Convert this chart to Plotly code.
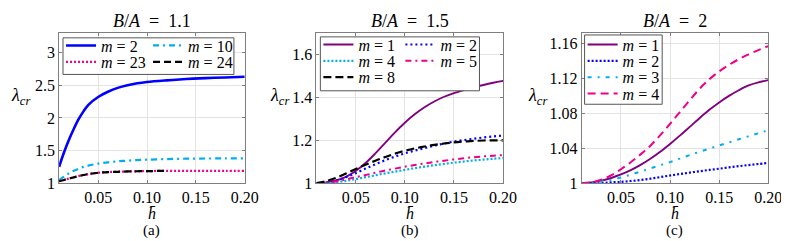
import plotly.graph_objects as go

W, H = 789, 241
FONT = "Liberation Serif"

# ---------------- data ----------------
# panel (a) B/A = 1.1
h_a = [0.01, 0.015, 0.02, 0.025, 0.03, 0.035, 0.04, 0.05, 0.06, 0.07, 0.08, 0.09,
       0.10, 0.12, 0.14, 0.16, 0.18, 0.20]
a_m2 = [1.25, 1.47, 1.66, 1.83, 1.98, 2.10, 2.20, 2.32, 2.40, 2.46, 2.50, 2.53,
        2.55, 2.575, 2.595, 2.61, 2.62, 2.63]
a_m10 = [1.05, 1.10, 1.15, 1.19, 1.22, 1.25, 1.27, 1.30, 1.32, 1.335, 1.345, 1.355,
         1.36, 1.37, 1.375, 1.378, 1.38, 1.38]
a_m23 = [1.03, 1.05, 1.07, 1.09, 1.11, 1.125, 1.14, 1.16, 1.17, 1.175, 1.18, 1.183,
         1.185, 1.19, 1.19, 1.19, 1.19, 1.19]
h_a24 = [0.01, 0.015, 0.02, 0.025, 0.03, 0.035, 0.04, 0.05, 0.06, 0.07, 0.08, 0.09,
         0.10, 0.12]
a_m24 = [1.03, 1.05, 1.07, 1.09, 1.11, 1.125, 1.14, 1.16, 1.17, 1.175, 1.18, 1.183,
         1.185, 1.19]

# panel (b) B/A = 1.5
h_b = [0.01, 0.02, 0.03, 0.04, 0.05, 0.06, 0.07, 0.08, 0.09, 0.10, 0.11, 0.12,
       0.13, 0.14, 0.15, 0.16, 0.17, 0.18, 0.19, 0.20]
b_m1 = [1.0, 1.004, 1.013, 1.030, 1.057, 1.094, 1.139, 1.188, 1.237, 1.282, 1.321, 1.354,
        1.381, 1.403, 1.420, 1.434, 1.447, 1.458, 1.468, 1.477]
b_m2 = [1.0, 1.003, 1.012, 1.028, 1.047, 1.068, 1.088, 1.107, 1.124, 1.139, 1.152, 1.164,
        1.175, 1.185, 1.194, 1.201, 1.207, 1.213, 1.218, 1.222]
b_m4 = [1.0, 1.0, 1.004, 1.011, 1.019, 1.028, 1.037, 1.046, 1.054, 1.062, 1.07, 1.077,
        1.084, 1.09, 1.096, 1.101, 1.106, 1.11, 1.114, 1.117]
b_m5 = [1.0, 1.002, 1.008, 1.018, 1.028, 1.038, 1.049, 1.059, 1.068, 1.077, 1.085, 1.092,
        1.099, 1.105, 1.111, 1.116, 1.121, 1.125, 1.128, 1.131]
b_m8 = [1.0, 1.01, 1.025, 1.045, 1.066, 1.086, 1.105, 1.122, 1.138, 1.151, 1.162, 1.171,
        1.179, 1.185, 1.19, 1.194, 1.197, 1.199, 1.2, 1.2]

# panel (c) B/A = 2
h_c = h_b
c_m1 = [1.0, 1.001, 1.003, 1.006, 1.010, 1.015, 1.021, 1.028, 1.036, 1.045, 1.0545, 1.0645,
        1.0745, 1.084, 1.0925, 1.1, 1.1065, 1.112, 1.1155, 1.118]
c_m2 = [1.0, 1.0, 1.0, 1.001, 1.0015, 1.0025, 1.0037, 1.0052, 1.007, 1.0088, 1.0105, 1.0121,
        1.0137, 1.0152, 1.0166, 1.0181, 1.0195, 1.0208, 1.022, 1.0233]
c_m3 = [1.0, 1.0, 1.002, 1.004, 1.0066, 1.0098, 1.0133, 1.017, 1.0206, 1.0242, 1.0282, 1.0322,
        1.036, 1.0397, 1.0432, 1.0468, 1.0503, 1.0538, 1.0572, 1.0606]
c_m4 = [1.0, 1.001, 1.004, 1.009, 1.016, 1.024, 1.033, 1.043, 1.055, 1.068, 1.0815, 1.095,
        1.108, 1.119, 1.128, 1.1355, 1.142, 1.1475, 1.1525, 1.157]

x_ticks = [0.05, 0.10, 0.15, 0.20]
x_ticktext = ["0.05", "0.10", "0.15", "0.20"]
ya_ticks = [1, 1.5, 2, 2.5, 3]
ya_ticktext = ["1", "1.5", "2", "2.5", "3"]
yb_ticks = [1, 1.2, 1.4, 1.6]
yb_ticktext = ["1", "1.2", "1.4", "1.6"]
yc_ticks = [1, 1.04, 1.08, 1.12, 1.16]
yc_ticktext = ["1", "1.04", "1.08", "1.12", "1.16"]
titles = ["<i>B</i>/<i>A</i>\u2002=\u20021.1", "<i>B</i>/<i>A</i>\u2002=\u20021.5",
          "<i>B</i>/<i>A</i>\u2002=\u20022"]
sublabels = ["(a)", "(b)", "(c)"]

BLUE = "#0000FF"
CYAN = "#00AEEF"
MAG = "#EC008C"
PURP = "#800080"
BLACK = "#000000"

# ---------------- helpers ----------------
def fx(p):
    return p / W

def fy(p):
    return 1 - p / H

def lab(m):
    return f"<i>m</i> = {m}"

fig = go.Figure()

def add(x, y, m, color, dash, width, ax, legend):
    fig.add_trace(go.Scatter(
        x=x, y=y, mode="lines", name=lab(m),
        line=dict(color=color, dash=dash, width=width, shape="spline", smoothing=1.0),
        xaxis="x" + ax, yaxis="y" + ax, legend=legend, showlegend=True, hoverinfo="skip"))

# panel a
add(h_a, a_m2, 2, BLUE, "solid", 2.6, "", "legend")
add(h_a, a_m10, 10, CYAN, "6px,4px,2px,4px", 2.2, "", "legend")
add(h_a, a_m23, 23, MAG, "2px,2px", 2.2, "", "legend2")
add(h_a24, a_m24, 24, BLACK, "7px,4px", 2.2, "", "legend2")
# panel b
add(h_b, b_m1, 1, PURP, "solid", 1.9, "2", "legend3")
add(h_b, b_m2, 2, BLUE, "2px,3px", 2.2, "2", "legend3")
add(h_b, b_m4, 4, CYAN, "2px,2px", 2.2, "2", "legend4")
add(h_b, b_m5, 5, MAG, "6px,4px,2px,4px", 2.0, "2", "legend4")
add(h_b, b_m8, 8, BLACK, "8px,4px", 2.2, "2", "legend5")
# panel c
add(h_c, c_m1, 1, PURP, "solid", 1.9, "3", "legend6")
add(h_c, c_m2, 2, BLUE, "2px,2px", 2.2, "3", "legend7")
add(h_c, c_m3, 3, CYAN, "4px,6px,2px,6px", 2.0, "3", "legend8")
add(h_c, c_m4, 4, MAG, "8px,5px", 2.0, "3", "legend9")

# ---------------- layout ----------------
panels = [
    dict(xd=(52, 241), yr=(1, 3.3), yt=ya_ticks, ytt=ya_ticktext, ylab=13),
    dict(xd=(314, 504), yr=(1, 1.7), yt=yb_ticks, ytt=yb_ticktext, ylab=276),
    dict(xd=(584, 774), yr=(1, 1.172), yt=yc_ticks, ytt=yc_ticktext, ylab=539),
]
TOP, BOT = 26, 182
axis_common = dict(showline=True, mirror="ticks", linecolor="#7f7f7f", linewidth=1,
                   showgrid=True, gridcolor="#e3e3e3", gridwidth=1, zeroline=False,
                   ticks="inside", ticklen=3, tickcolor="#7f7f7f",
                   tickfont=dict(family=FONT, size=16, color="black"))
layout = dict(width=W, height=H, margin=dict(l=0, r=0, t=0, b=0),
              paper_bgcolor="white", plot_bgcolor="white", showlegend=True)
annotations = []
shapes = []

def note(text, xp, yp, size):
    annotations.append(dict(text=text, x=fx(xp), y=fy(yp), xref="paper", yref="paper",
                            xanchor="center", yanchor="middle", showarrow=False,
                            font=dict(family=FONT, size=size, color="black")))

for i, p in enumerate(panels):
    s = "" if i == 0 else str(i + 1)
    layout["xaxis" + s] = dict(axis_common, domain=[fx(p["xd"][0]), fx(p["xd"][1])],
                               range=[0.01, 0.2000001], tickvals=x_ticks, ticktext=x_ticktext,
                               anchor="y" + s)
    layout["yaxis" + s] = dict(axis_common, domain=[fy(BOT), fy(TOP)], range=list(p["yr"]),
                               tickvals=p["yt"], ticktext=p["ytt"], anchor="x" + s)
    cx = (p["xd"][0] + p["xd"][1]) / 2
    note(titles[i], cx, 13, 18)
    note("<i>h̄</i>", cx, 213, 16)
    note(sublabels[i], cx, 231, 15)
    note("<i>λ</i><sub><i>cr</i></sub>", p["ylab"], 92, 18)

# legend boxes (white, framed)
boxes = [(56, 31, 230, 69), (318, 30, 480, 86), (587, 28, 666, 100)]
for (x0, y0, x1, y1) in boxes:
    shapes.append(dict(type="rect", xref="paper", yref="paper", x0=fx(x0), x1=fx(x1),
                       y0=fy(y1), y1=fy(y0), line=dict(color="#555555", width=1),
                       fillcolor="white", layer="above"))

# legend rows: (name, x px, y px, entrywidth)
leg_rows = [
    ("legend", 54, 39, 42), ("legend2", 54, 56, 42),
    ("legend3", 316, 38, 37), ("legend4", 316, 55, 37), ("legend5", 316, 72, 37),
    ("legend6", 585, 38, 37), ("legend7", 585, 55, 37), ("legend8", 585, 72, 37), ("legend9", 585, 89, 37),
]
for name, lx, ly, ew in leg_rows:
    layout[name] = dict(orientation="h", x=fx(lx), y=fy(ly), xanchor="left", yanchor="middle",
                        bgcolor="rgba(0,0,0,0)", borderwidth=0, entrywidth=ew, entrywidthmode="pixels",
                        itemwidth=30, tracegroupgap=0, itemclick=False, itemdoubleclick=False,
                        font=dict(family=FONT, size=16, color="black"))

layout["annotations"] = annotations
layout["shapes"] = shapes
fig.update_layout(**layout)
fig.write_html("out.html")
